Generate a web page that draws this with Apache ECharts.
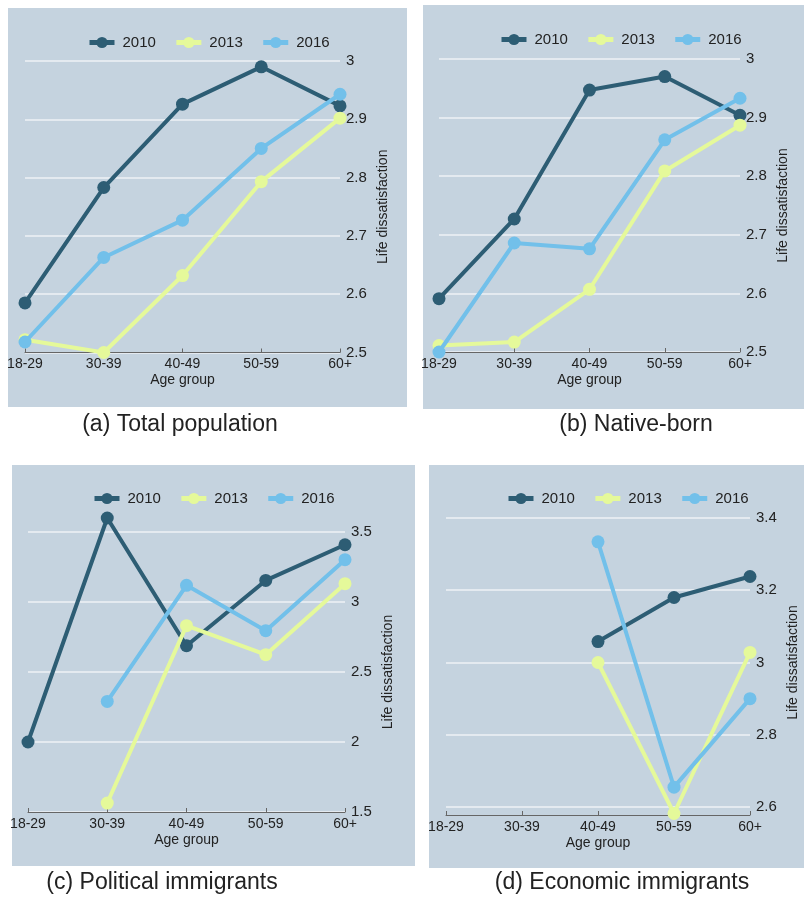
<!DOCTYPE html>
<html>
<head>
<meta charset="utf-8">
<script src="https://cdn.jsdelivr.net/npm/echarts@6/dist/echarts.min.js"></script>
<style>
  html, body { margin: 0; padding: 0; background: #ffffff; }
  #chart { width: 804px; height: 898px; }
</style>
</head>
<body>
<div id="chart"></div>
<script>
// Age-group categories and survey years
const ageGroups = ['18-29', '30-39', '40-49', '50-59', '60+'];
const years = ['2010', '2013', '2016'];

// (a) Total population
const total2010 = [2.585, 2.783, 2.926, 2.990, 2.923];
const total2013 = [2.522, 2.500, 2.632, 2.793, 2.902];
const total2016 = [2.518, 2.663, 2.727, 2.850, 2.943];

// (b) Native-born
const native2010 = [2.591, 2.727, 2.947, 2.970, 2.904];
const native2013 = [2.511, 2.517, 2.607, 2.809, 2.887];
const native2016 = [2.500, 2.686, 2.676, 2.862, 2.933];

// (c) Political immigrants
const political2010 = [2.000, 3.600, 2.688, 3.154, 3.409];
const political2013 = [null, 1.564, 2.831, 2.624, 3.131];
const political2016 = [null, 2.290, 3.119, 2.795, 3.302];

// (d) Economic immigrants
const economic2010 = [null, null, 3.058, 3.180, 3.238];
const economic2013 = [null, null, 3.000, 2.582, 3.028];
const economic2016 = [null, null, 3.334, 2.655, 2.900];

// Y-axis tick ranges per panel: [min, max, step]
const yTicksTotal = [2.5, 3.0, 0.1];
const yTicksNative = [2.5, 3.0, 0.1];
const yTicksPolitical = [1.5, 3.5, 0.5];
const yTicksEconomic = [2.6, 3.4, 0.2];

const captions = ['(a) Total population', '(b) Native-born', '(c) Political immigrants', '(d) Economic immigrants'];
const yAxisTitle = 'Life dissatisfaction';
const xAxisTitle = 'Age group';

const yearColors = ['#2d5d74', '#e5f99a', '#72c0ea'];
const panelBg = '#c5d3df';
const textColor = '#222222';
const fontFamily = '"Liberation Sans", Arial, Helvetica, sans-serif';

// Layout of the four panels
const panels = [
  { series: [total2010, total2013, total2016], ticks: yTicksTotal,
    bg: [8, 8, 399, 399], grid: { left: 25, top: 61, width: 315, height: 291.5 },
    legend: { left: 82, top: 30 }, caption: [180, 425], xOffset: 0 },
  { series: [native2010, native2013, native2016], ticks: yTicksNative,
    bg: [423, 5, 381, 404], grid: { left: 439, top: 59, width: 301, height: 293 },
    legend: { left: 494, top: 27 }, caption: [636, 425], xOffset: 0 },
  { series: [political2010, political2013, political2016], ticks: yTicksPolitical,
    bg: [12, 465, 403, 401], grid: { left: 28, top: 532, width: 317, height: 280 },
    legend: { left: 87, top: 486 }, caption: [162, 883], xOffset: 0 },
  { series: [economic2010, economic2013, economic2016], ticks: yTicksEconomic,
    bg: [429, 465, 375, 403], grid: { left: 446, top: 518, width: 304, height: 289 },
    legend: { left: 501, top: 486 }, caption: [622, 883], xOffset: 8 }
];

const grids = [], xAxes = [], yAxes = [], series = [], legends = [], graphics = [];

panels.forEach((p, i) => {
  graphics.push({
    type: 'rect', z: -10, silent: true,
    shape: { x: p.bg[0], y: p.bg[1], width: p.bg[2], height: p.bg[3] },
    style: { fill: panelBg }
  });
  graphics.push({
    type: 'text', x: p.caption[0], y: p.caption[1], silent: true,
    style: { text: captions[i], fill: textColor, font: '23px ' + fontFamily,
             textAlign: 'center', textVerticalAlign: 'middle' }
  });

  grids.push(Object.assign({ containLabel: false }, p.grid));

  xAxes.push({
    type: 'category', gridIndex: i, data: ageGroups, boundaryGap: false,
    offset: p.xOffset,
    name: xAxisTitle, nameLocation: 'middle', nameGap: 21,
    nameTextStyle: { color: textColor, fontSize: 14, fontFamily },
    axisLine: { show: true, lineStyle: { color: '#666666', width: 1 } },
    axisTick: { show: true, inside: true, length: 4, alignWithLabel: true,
                lineStyle: { color: '#666666' } },
    axisLabel: { color: textColor, fontSize: 14, fontFamily, margin: 5 },
    splitLine: { show: false }
  });

  yAxes.push({
    type: 'value', gridIndex: i, position: 'right',
    min: p.ticks[0], max: p.ticks[1], interval: p.ticks[2],
    name: yAxisTitle, nameLocation: 'middle', nameRotate: 90, nameGap: 36,
    nameTextStyle: { color: textColor, fontSize: 14, fontFamily },
    axisLine: { show: false }, axisTick: { show: false },
    axisLabel: { color: textColor, fontSize: 15, fontFamily, margin: 6 },
    splitLine: { show: true, lineStyle: { color: '#eef2f6', width: 1.5 } }
  });

  p.series.forEach((vals, k) => {
    series.push({
      type: 'line', name: years[k], xAxisIndex: i, yAxisIndex: i,
      data: vals, connectNulls: false, clip: false,
      symbol: 'circle', symbolSize: 13,
      lineStyle: { color: yearColors[k], width: 4 },
      itemStyle: { color: yearColors[k] },
      emphasis: { disabled: true },
      z: 2 + k
    });
  });

  legends.push({
    left: p.legend.left, top: p.legend.top, orient: 'horizontal',
    data: years, itemWidth: 25, itemHeight: 14, itemGap: 18,
    lineStyle: { width: 5 },
    textStyle: { color: textColor, fontSize: 15, fontFamily, padding: [0, 0, 0, 3] }
  });
});

const chart = echarts.init(document.getElementById('chart'), null, { renderer: 'canvas' });
chart.setOption({
  animation: false,
  backgroundColor: '#ffffff',
  grid: grids,
  xAxis: xAxes,
  yAxis: yAxes,
  series: series,
  legend: legends,
  graphic: graphics
});
</script>
</body>
</html>
